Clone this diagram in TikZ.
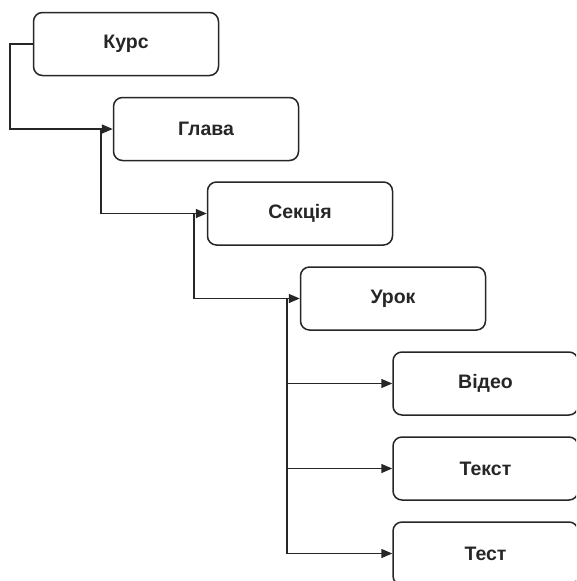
\documentclass[tikz,border=0pt]{standalone}
\usepackage{fontspec}
\setmainfont{Liberation Sans}
\usetikzlibrary{arrows.meta}
\begin{document}
\begin{tikzpicture}[x=1pt,y=-1pt,
  box/.style={draw=black!85, line width=1.5pt, rounded corners=9pt, minimum height=63pt, minimum width=185pt, inner sep=0pt, font=\fontsize{19.5}{22}\selectfont\bfseries, text=black!85},
  link/.style={draw=black!85, line width=1.5pt, -{Triangle[length=11pt,width=9pt]}}]
\useasboundingbox (0,0) rectangle (576,581);
\begin{scope}
\clip (0,0) rectangle (576,581);
\node[box] (kurs) at (126,44) {Курс};
\node[box] (glava) at (206,129) {Глава};
\node[box] (sekcia) at (300,213.5) {Секція};
\node[box] (urok) at (393,298.5) {Урок};
\node[box] (video) at (485.5,383.5) {Відео};
\node[box] (tekst) at (485.5,468.5) {Текст};
\node[box] (test) at (485.5,553.5) {Тест};
\end{scope}
\coordinate (c1) at (10,44);
\coordinate (c2) at (101,129);
\coordinate (c3) at (194,213.5);
\coordinate (c4) at (287,298.5);
\draw[link] (kurs.west) -- (c1) |- (glava.west);
\draw[link] (c2) |- (sekcia.west);
\draw[link] (c3) |- (urok.west);
\draw[link] (c4) |- (video.west);
\draw[link] (c4) |- (tekst.west);
\draw[link] (c4) |- (test.west);
\end{tikzpicture}
\end{document}
